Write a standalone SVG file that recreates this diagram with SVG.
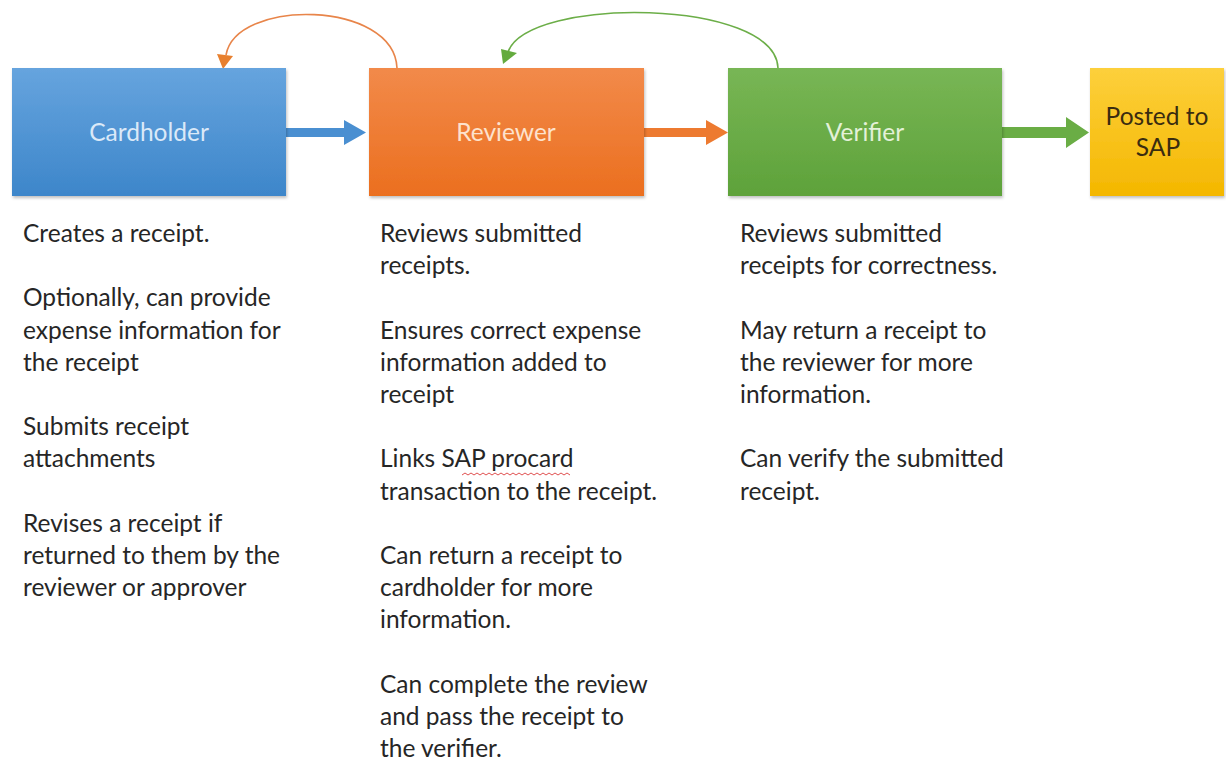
<svg xmlns="http://www.w3.org/2000/svg" width="1226" height="762" viewBox="0 0 1226 762">
  <style>
    .body { font-family: Lato, "Open Sans", "Liberation Sans", sans-serif; font-size: 24.5px; fill: #262626; }
    .lbl { font-family: Lato, "Open Sans", "Liberation Sans", sans-serif; font-size: 24.5px; text-anchor: middle; }
    .curve { fill: none; stroke-width: 1.6; }
  </style>
  <defs>
    <linearGradient id="gBlue" x1="0" y1="0" x2="0" y2="1">
      <stop offset="0" stop-color="#66a4de"/>
      <stop offset="1" stop-color="#3d86ca"/>
    </linearGradient>
    <linearGradient id="gOrange" x1="0" y1="0" x2="0" y2="1">
      <stop offset="0" stop-color="#f28a4a"/>
      <stop offset="1" stop-color="#eb6f1f"/>
    </linearGradient>
    <linearGradient id="gGreen" x1="0" y1="0" x2="0" y2="1">
      <stop offset="0" stop-color="#78b655"/>
      <stop offset="1" stop-color="#5ea23a"/>
    </linearGradient>
    <linearGradient id="gGold" x1="0" y1="0" x2="0" y2="1">
      <stop offset="0" stop-color="#fdd03c"/>
      <stop offset="1" stop-color="#f4b700"/>
    </linearGradient>
    <filter id="shadow" x="-5%" y="-5%" width="112%" height="115%">
      <feDropShadow dx="1" dy="2" stdDeviation="1.5" flood-color="#000" flood-opacity="0.25"/>
    </filter>
  </defs>
  <rect width="1226" height="762" fill="#ffffff"/>

  <g id="connectors">
    <polygon points="286,128 344,128 344,120 366,132.5 344,145 344,137 286,137" fill="#4a8fd1"/>
    <polygon points="644,128 706,128 706,120 728,132.5 706,145 706,137 644,137" fill="#ed7a30"/>
    <polygon points="1002,127 1066,127 1066,117 1089,132.5 1066,148 1066,138 1002,138" fill="#6aad45"/>
    <path class="curve" stroke="#e8854a" d="M397,68 C394,0 236,-2 226,55"/>
    <polygon points="217,54 233,56 223,69" fill="#e8802f"/>
    <path class="curve" stroke="#6cae48" d="M778,68 C775,-2 528,-4 508,52"/>
    <polygon points="501,49 517,53 503,64" fill="#64ab3e"/>
  </g>

  <g id="cardholder">
    <rect x="12" y="68" width="274" height="128" fill="url(#gBlue)" filter="url(#shadow)"/>
    <text class="lbl" x="149" y="141" fill="#dbe9f8">Cardholder</text>
  </g>
  <g id="reviewer">
    <rect x="369" y="68" width="275" height="128" fill="url(#gOrange)" filter="url(#shadow)"/>
    <text class="lbl" x="506" y="141" fill="#fde2cc">Reviewer</text>
  </g>
  <g id="verifier">
    <rect x="728" y="68" width="274" height="128" fill="url(#gGreen)" filter="url(#shadow)"/>
    <text class="lbl" x="865" y="141" fill="#e3f1d8">Verifier</text>
  </g>
  <g id="sap">
    <rect x="1090" y="68" width="134" height="128" fill="url(#gGold)" filter="url(#shadow)"/>
    <text class="lbl" x="1157" y="125" fill="#3a2c10">Posted to</text>
    <text class="lbl" x="1158" y="156" fill="#3a2c10">SAP</text>
  </g>

  <g id="cardholder-notes" class="body">
    <text x="23" y="242">Creates a receipt.</text>
    <text x="23" y="306.4">Optionally, can provide</text>
    <text x="23" y="338.6">expense information for</text>
    <text x="23" y="370.8">the receipt</text>
    <text x="23" y="435.2">Submits receipt</text>
    <text x="23" y="467.4">attachments</text>
    <text x="23" y="531.8">Revises a receipt if</text>
    <text x="23" y="564">returned to them by the</text>
    <text x="23" y="596.2">reviewer or approver</text>
  </g>

  <g id="reviewer-notes" class="body">
    <text x="380" y="242">Reviews submitted</text>
    <text x="380" y="274.2">receipts.</text>
    <text x="380" y="338.6">Ensures correct expense</text>
    <text x="380" y="370.8">information added to</text>
    <text x="380" y="403">receipt</text>
    <text x="380" y="467.4">Links SAP procard</text>
    <text x="380" y="499.6">transaction to the receipt.</text>
    <text x="380" y="564">Can return a receipt to</text>
    <text x="380" y="596.2">cardholder for more</text>
    <text x="380" y="628.4">information.</text>
    <text x="380" y="692.8">Can complete the review</text>
    <text x="380" y="725">and pass the receipt to</text>
    <text x="380" y="757.2">the verifier.</text>
  </g>
  <path d="M462,475 l3,-2 l3,2 l3,-2 l3,2 l3,-2 l3,2 l3,-2 l3,2 l3,-2 l3,2 l3,-2 l3,2 l3,-2 l3,2 l3,-2 l3,2 l3,-2 l3,2 l3,-2 l3,2 l3,-2 l3,2 l3,-2 l3,2 l3,-2 l3,2 l3,-2 l3,2 l3,-2 l3,2 l3,-2 l3,2 l3,-2 l3,2 l3,-2 l3,2" fill="none" stroke="#e05050" stroke-width="1"/>

  <g id="verifier-notes" class="body">
    <text x="740" y="242">Reviews submitted</text>
    <text x="740" y="274.2">receipts for correctness.</text>
    <text x="740" y="338.6">May return a receipt to</text>
    <text x="740" y="370.8">the reviewer for more</text>
    <text x="740" y="403">information.</text>
    <text x="740" y="467.4">Can verify the submitted</text>
    <text x="740" y="499.6">receipt.</text>
  </g>
</svg>
